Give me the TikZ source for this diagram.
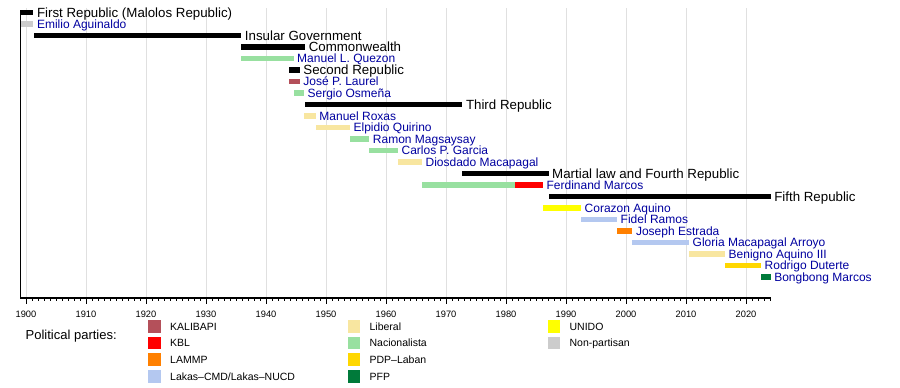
\documentclass[tikz,border=0pt]{standalone}
\usepackage{fontspec}
\setmainfont{Liberation Sans}
\definecolor{kalibapi}{RGB}{180,80,90}
\definecolor{kbl}{RGB}{255,0,0}
\definecolor{lammp}{RGB}{255,128,0}
\definecolor{lakas}{RGB}{180,200,240}
\definecolor{liberal}{RGB}{248,230,160}
\definecolor{nacionalista}{RGB}{152,224,160}
\definecolor{pdp}{RGB}{255,215,0}
\definecolor{pfp}{RGB}{0,122,58}
\definecolor{unido}{RGB}{255,255,0}
\definecolor{nonpartisan}{RGB}{204,204,204}
\definecolor{nameblue}{RGB}{0,0,160}
\definecolor{gridgrey}{RGB}{224,224,224}
\newcommand\tlx[1]{26+6*(#1-1900)}
\newcommand\tly[1]{12.5+11.5*(#1-1)}
\newcommand\tlbar[4]{\fill[#4] ({\tlx{#2}},{\tly{#1}-2.6}) rectangle ({\tlx{#3}},{\tly{#1}+2.6});}
\newcommand\tllab[4]{\node[#3] (lab#1) at ({\tlx{#2}+3.5},{\tly{#1}}) {#4};}
\newcommand\tlleg[5]{%
  \fill[#4] (#2,{320+16.67*(#3-1)}) rectangle ++(12.7,12.7);
  \node[legtext] (#1) at ({#2+21.7},{326.35+16.67*(#3-1)}) {#5};}
\begin{document}
\begin{tikzpicture}[x=1pt,y=-1pt,
  eralabel/.style={anchor=base west,inner sep=0pt,yshift=-4.7pt,font=\fontsize{13.3}{15}\selectfont,text=black},
  namelabel/.style={anchor=base west,inner sep=0pt,yshift=-4.2pt,font=\fontsize{12}{14}\selectfont,text=nameblue},
  yearlab/.style={anchor=center,inner sep=0pt,font=\fontsize{9.3}{11}\selectfont},
  legtext/.style={anchor=base west,inner sep=0pt,yshift=-3.7pt,font=\fontsize{10.5}{12}\selectfont},
  gridline/.style={draw=gridgrey,line width=0.9pt},
  axisline/.style={draw=black,line width=1.2pt},
  tickmark/.style={draw=black,line width=0.8pt}]
\useasboundingbox (0,0) rectangle (900,388);
\fill[white] (0,0) rectangle (900,388);
% grid
\foreach \yr in {1900,1910,...,2020} \draw[gridline] ({\tlx{\yr}},8) -- ({\tlx{\yr}},298);
% bars
\tlbar{1}{1899.07}{1901.22}{black}
\tlbar{2}{1899.07}{1901.22}{nonpartisan}
\tlbar{3}{1901.33}{1935.87}{black}
\tlbar{4}{1935.87}{1946.51}{black}
\tlbar{5}{1935.87}{1944.59}{nacionalista}
\tlbar{6}{1943.79}{1945.63}{black}
\tlbar{7}{1943.79}{1945.63}{kalibapi}
\tlbar{8}{1944.59}{1946.32}{nacionalista}
\tlbar{9}{1946.51}{1972.72}{black}
\tlbar{10}{1946.32}{1948.29}{liberal}
\tlbar{11}{1948.29}{1953.99}{liberal}
\tlbar{12}{1953.99}{1957.21}{nacionalista}
\tlbar{13}{1957.21}{1961.99}{nacionalista}
\tlbar{14}{1961.99}{1965.99}{liberal}
\tlbar{15}{1972.72}{1987.09}{black}
\tlbar{16}{1965.99}{1981.48}{nacionalista}
\tlbar{16}{1981.48}{1986.15}{kbl}
\tlbar{17}{1987.09}{2024.1}{black}
\tlbar{18}{1986.15}{1992.5}{unido}
\tlbar{19}{1992.5}{1998.5}{lakas}
\tlbar{20}{1998.5}{2001.05}{lammp}
\tlbar{21}{2001.05}{2010.5}{lakas}
\tlbar{22}{2010.5}{2016.5}{liberal}
\tlbar{23}{2016.5}{2022.5}{pdp}
\tlbar{24}{2022.5}{2024.1}{pfp}
% labels
\tllab{1}{1901.22}{eralabel}{First Republic (Malolos Republic)}
\tllab{2}{1901.22}{namelabel}{Emilio Aguinaldo}
\tllab{3}{1935.87}{eralabel}{Insular Government}
\tllab{4}{1946.51}{eralabel}{Commonwealth}
\tllab{5}{1944.59}{namelabel}{Manuel L. Quezon}
\tllab{6}{1945.63}{eralabel}{Second Republic}
\tllab{7}{1945.63}{namelabel}{José P. Laurel}
\tllab{8}{1946.32}{namelabel}{Sergio Osmeña}
\tllab{9}{1972.72}{eralabel}{Third Republic}
\tllab{10}{1948.29}{namelabel}{Manuel Roxas}
\tllab{11}{1953.99}{namelabel}{Elpidio Quirino}
\tllab{12}{1957.21}{namelabel}{Ramon Magsaysay}
\tllab{13}{1961.99}{namelabel}{Carlos P. Garcia}
\tllab{14}{1965.99}{namelabel}{Diosdado Macapagal}
\tllab{15}{1987.09}{eralabel}{Martial law and Fourth Republic}
\tllab{16}{1986.15}{namelabel}{Ferdinand Marcos}
\tllab{17}{2024.1}{eralabel}{Fifth Republic}
\tllab{18}{1992.5}{namelabel}{Corazon Aquino}
\tllab{19}{1998.5}{namelabel}{Fidel Ramos}
\tllab{20}{2001.05}{namelabel}{Joseph Estrada}
\tllab{21}{2010.5}{namelabel}{Gloria Macapagal Arroyo}
\tllab{22}{2016.5}{namelabel}{Benigno Aquino III}
\tllab{23}{2022.5}{namelabel}{Rodrigo Duterte}
\tllab{24}{2024.1}{namelabel}{Bongbong Marcos}
% axes
\foreach \yr in {1900,...,2024} \draw[tickmark] ({\tlx{\yr}},298) -- ++(0,3);
\foreach \yr in {1900,1910,...,2020} \draw[tickmark] ({\tlx{\yr}},298) -- ++(0,6);
\draw[axisline] (20.4,10) -- (20.4,298) -- (770.7,298);
\foreach \yr in {1900,1910,...,2020} \node[yearlab] (y\yr) at ({\tlx{\yr}},314) {\yr};
% legend
\node[anchor=base west,inner sep=0pt,font=\fontsize{13}{15}\selectfont] (pp) at (25.5,339) {Political parties:};
\tlleg{l1}{148.3}{1}{kalibapi}{KALIBAPI}
\tlleg{l2}{148.3}{2}{kbl}{KBL}
\tlleg{l3}{148.3}{3}{lammp}{LAMMP}
\tlleg{l4}{148.3}{4}{lakas}{Lakas–CMD/Lakas–NUCD}
\tlleg{l5}{347.7}{1}{liberal}{Liberal}
\tlleg{l6}{347.7}{2}{nacionalista}{Nacionalista}
\tlleg{l7}{347.7}{3}{pdp}{PDP–Laban}
\tlleg{l8}{347.7}{4}{pfp}{PFP}
\tlleg{l9}{547.7}{1}{unido}{UNIDO}
\tlleg{l10}{547.7}{2}{nonpartisan}{Non-partisan}
\end{tikzpicture}
\end{document}
